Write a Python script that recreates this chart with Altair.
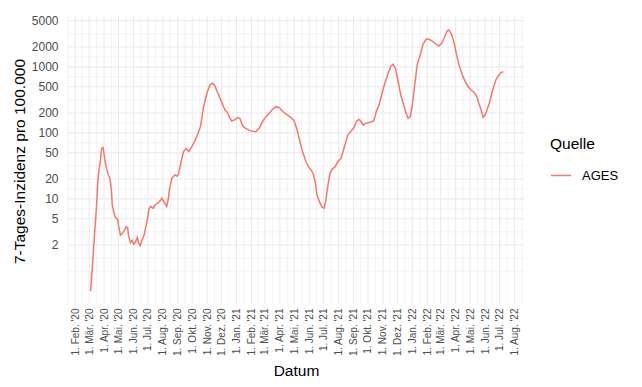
import json
import altair as alt
import numpy as np
import pandas as pd

# ---- data ----
dates = [
    "2020-03-04", "2020-03-08", "2020-03-12", "2020-03-16", "2020-03-20", "2020-03-24", "2020-03-27",
    "2020-03-30", "2020-04-02", "2020-04-05", "2020-04-10", "2020-04-13", "2020-04-16", "2020-04-18",
    "2020-04-21", "2020-04-24", "2020-04-29", "2020-05-02", "2020-05-05", "2020-05-09", "2020-05-13",
    "2020-05-17", "2020-05-20", "2020-05-22", "2020-05-26", "2020-05-29", "2020-06-02", "2020-06-05",
    "2020-06-09", "2020-06-12", "2020-06-15", "2020-06-18", "2020-06-23", "2020-06-26", "2020-06-30",
    "2020-07-03", "2020-07-07", "2020-07-12", "2020-07-16", "2020-07-23", "2020-07-28", "2020-07-30",
    "2020-08-04", "2020-08-09", "2020-08-12", "2020-08-15", "2020-08-20", "2020-08-26", "2020-08-31",
    "2020-09-03", "2020-09-08", "2020-09-13", "2020-09-18", "2020-09-24", "2020-09-28", "2020-10-04",
    "2020-10-09", "2020-10-13", "2020-10-18", "2020-10-21", "2020-10-24", "2020-10-28", "2020-11-02",
    "2020-11-07", "2020-11-12", "2020-11-17", "2020-11-22", "2020-11-28", "2020-12-03", "2020-12-08",
    "2020-12-12", "2020-12-17", "2020-12-22", "2020-12-28",
    "2021-01-03", "2021-01-08", "2021-01-13", "2021-01-17", "2021-01-20", "2021-01-27", "2021-01-31",
    "2021-02-10", "2021-02-17", "2021-02-24", "2021-03-03", "2021-03-10", "2021-03-17", "2021-03-24",
    "2021-03-31", "2021-04-09", "2021-04-17", "2021-04-26", "2021-05-01", "2021-05-07", "2021-05-12",
    "2021-05-17", "2021-05-24", "2021-05-30", "2021-06-05", "2021-06-10", "2021-06-14", "2021-06-17",
    "2021-06-22", "2021-06-27", "2021-07-02", "2021-07-05", "2021-07-10", "2021-07-14", "2021-07-19",
    "2021-07-25", "2021-07-30", "2021-08-06", "2021-08-13", "2021-08-20", "2021-08-27", "2021-09-02",
    "2021-09-07", "2021-09-12", "2021-09-16", "2021-09-21", "2021-09-26", "2021-10-04", "2021-10-13",
    "2021-10-18", "2021-10-24", "2021-10-29", "2021-11-05", "2021-11-12", "2021-11-17", "2021-11-22",
    "2021-11-27", "2021-12-02", "2021-12-08", "2021-12-13", "2021-12-18", "2021-12-23", "2021-12-28",
    "2022-01-01", "2022-01-06", "2022-01-11", "2022-01-18", "2022-01-23", "2022-01-30", "2022-02-03",
    "2022-02-10", "2022-02-17", "2022-02-25", "2022-03-03", "2022-03-08", "2022-03-14", "2022-03-18",
    "2022-03-24", "2022-03-29", "2022-04-03", "2022-04-08", "2022-04-15", "2022-04-21", "2022-04-26",
    "2022-05-03", "2022-05-10", "2022-05-15", "2022-05-19", "2022-05-24", "2022-05-28", "2022-06-01",
    "2022-06-05", "2022-06-10", "2022-06-15", "2022-06-20", "2022-06-24", "2022-06-30", "2022-07-05",
    "2022-07-09",
]
values = [
    0.40, 1.0, 2.8, 7.2, 23, 36.5, 58,
    60, 42, 30.7, 23, 20.6, 14.4, 8.0,
    6.4, 5.3, 4.9, 3.6, 2.8, 3.0, 3.3,
    3.8, 3.6, 2.7, 2.16, 2.35, 2.05, 2.2,
    2.6, 2.1, 1.95, 2.3, 2.8, 3.6, 4.9,
    7.0, 7.7, 7.2, 8.1, 8.8, 9.6, 10.2,
    8.8, 7.7, 9.6, 14.4, 20.6, 23, 22,
    24.6, 36.5, 52, 58, 52, 58, 69,
    83, 98, 124, 166, 235, 314, 430,
    531, 563, 518, 420, 333, 270, 222,
    209, 176, 151, 157,
    170, 166, 131, 121, 117, 110, 107,
    104, 117, 148, 176, 198, 227, 249,
    240, 205, 186, 166, 148, 110, 78,
    55, 38.8, 30.7, 27.4, 23, 17.2, 11.4,
    9.1, 7.6, 7.2, 9.1, 16.2, 24.4, 28.3,
    30.7, 36.5, 41, 61.6, 92.6, 107, 120,
    148, 160, 151, 131, 139, 143, 151,
    209, 263, 374, 562, 798, 1005, 1092,
    951, 632, 374, 280, 209, 166, 176,
    263, 531, 1067, 1549, 2195, 2640, 2640,
    2490, 2275, 2070, 2275, 2705, 3490, 3615,
    3034, 2275, 1510, 1067, 752, 596, 513,
    446, 406, 353, 280, 222, 172, 186,
    222, 280, 397, 531, 647, 752, 826,
    844,
]
source = "AGES"

y_breaks = [2, 5, 10, 20, 50, 100, 200, 500, 1000, 2000, 5000]
x_break_start = "2020-02-01"
x_break_end = "2022-08-01"
month_labels = ["Jan", "Feb", "Mär", "Apr", "Mai", "Jun", "Jul", "Aug", "Sep", "Okt", "Nov", "Dez"]
x_domain = ["2020-01-15", "2022-08-23"]
y_domain = [0.255, 5890]


def ms(s):
    return pd.to_datetime(s).astype("int64") // 10**6


df = pd.DataFrame({"t": ms(pd.Series(dates)), "v": values, "Quelle": source})

# gridline positions (major = breaks, minor = midpoints, as ggplot does)
ly = np.log10(y_breaks)
ext_lo = ly[0] - (ly[1] - ly[0])
y_minor = [10 ** ext_lo, 10 ** ((ext_lo + ly[0]) / 2)] + [10 ** ((a + b) / 2) for a, b in zip(ly[:-1], ly[1:])]
month_starts = pd.date_range(x_break_start, x_break_end, freq="MS")
xm = month_starts.astype("int64") // 10**6
step0 = xm[1] - xm[0]
stepn = xm[-1] - xm[-2]
x_minor = [float(xm[0] - step0 / 2)] + [float((a + b) / 2) for a, b in zip(xm[:-1], xm[1:])] + [float(xm[-1] + stepn / 2)]
x_major = [int(v) for v in xm]

xd = ms(pd.Series(x_domain))
xscale = alt.Scale(type="utc", domain=[int(xd[0]), int(xd[1])])
yscale = alt.Scale(type="log", domain=y_domain, nice=False)

GRID = "#EBEBEB"

label_expr = ("'1. ' + " + json.dumps(month_labels, ensure_ascii=False) +
              "[utcmonth(datum.value)] + \". '\" + utcFormat(datum.value, '%y')")

x_axis = alt.Axis(
    title="Datum", values=x_major, labelExpr=label_expr, labelAngle=270, labelAlign="right",
    labelBaseline="middle", labelFontSize=10, labelColor="#4D4D4D", labelPadding=4,
    labelOverlap=False, labelFlush=False, ticks=False, domain=False, grid=False,
    titleFontSize=15.5, titleFontWeight="normal", titleColor="black", titleX=229, titleY=71,
    titleAlign="center", titleBaseline="alphabetic")
y_axis = alt.Axis(
    title="7-Tages-Inzidenz pro 100.000", values=y_breaks, format="d", labelFontSize=12,
    labelColor="#4D4D4D", labelPadding=9, ticks=False, domain=False, grid=False,
    labelOverlap=False, labelFlush=False,
    titleFontSize=15.5, titleFontWeight="normal", titleColor="black", titleAngle=270,
    titleX=-48, titleY=145, titleAlign="center", titleBaseline="middle")

gy_major = alt.Chart(pd.DataFrame({"y": y_breaks})).mark_rule(color=GRID, strokeWidth=1.1, clip=True).encode(
    y=alt.Y("y:Q", scale=yscale, axis=y_axis))
gy_minor = alt.Chart(pd.DataFrame({"y": y_minor})).mark_rule(color=GRID, strokeWidth=0.6, clip=True).encode(
    y=alt.Y("y:Q", scale=yscale, axis=y_axis))
gx_major = alt.Chart(pd.DataFrame({"x": x_major})).mark_rule(color=GRID, strokeWidth=1.1, clip=True).encode(
    x=alt.X("x:T", scale=xscale, axis=x_axis))
gx_minor = alt.Chart(pd.DataFrame({"x": x_minor})).mark_rule(color=GRID, strokeWidth=0.6, clip=True).encode(
    x=alt.X("x:T", scale=xscale, axis=x_axis))

line = alt.Chart(df).mark_line(strokeWidth=1.5, clip=True).encode(
    x=alt.X("t:T", scale=xscale, axis=x_axis),
    y=alt.Y("v:Q", scale=yscale, axis=y_axis),
    color=alt.Color("Quelle:N", scale=alt.Scale(domain=[source], range=["#F8766D"]), legend=alt.Legend(
        title="Quelle", orient="none", legendX=483, legendY=121, symbolType="stroke",
        symbolSize=400, symbolStrokeWidth=1.5, titleFontSize=15.5, titleFontWeight="normal",
        titleColor="black", labelFontSize=13, labelColor="black", titlePadding=12, labelOffset=10)),
)

chart = alt.layer(gy_minor, gx_minor, gy_major, gx_major, line).properties(
    width=458, height=288,
    autosize=alt.AutoSizeParams(type="none"),
    padding={"left": 67, "top": 16, "right": 117, "bottom": 83},
    background="white",
).configure(font="Liberation Sans").configure_view(strokeWidth=0, stroke="transparent")

chart.save("out.html", embed_options={"renderer": "svg", "actions": False})
